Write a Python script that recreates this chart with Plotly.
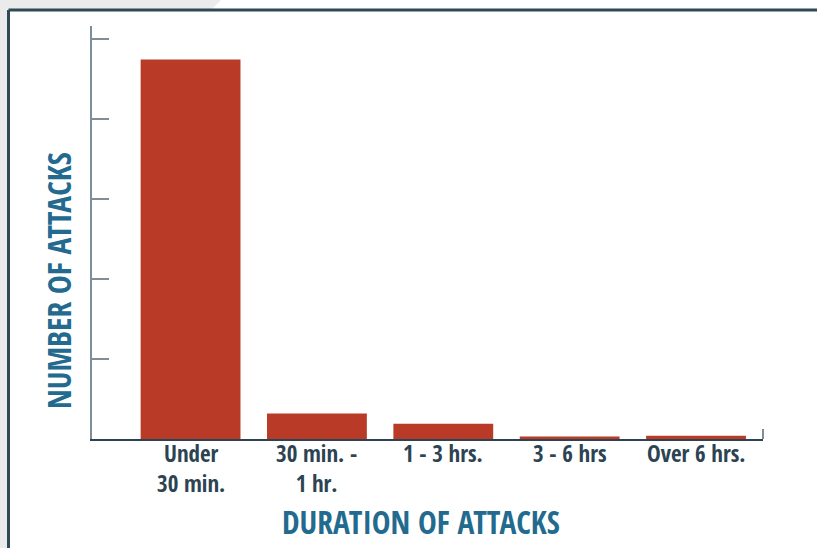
import plotly.graph_objects as go

# Attack counts by duration bucket
categories = ["Under<br>30 min.", "30 min. -<br>1 hr.", "1 - 3 hrs.", "3 - 6 hrs", "Over 6 hrs."]
attacks = [474, 32, 19, 3, 4]
y_ticks = [0, 100, 200, 300, 400, 500]

W, H = 817, 548
L, R, T, B = 92, 54, 26, 109
PW, PH = W - L - R, H - T - B

def px(x):
    return (x - L) / PW

def py(y):
    return (H - B - y) / PH

BAR = "#b83a27"
DARK = "#2c4352"
BLUE = "#236a8f"
GRID = "#7d8e98"
FONT = "Open Sans Condensed, Roboto Condensed, sans-serif"

fig = go.Figure(go.Bar(
    x=list(range(len(categories))),
    y=attacks,
    marker=dict(color=BAR, line=dict(width=0)),
    width=0.79,
))

shapes = [
    # light grey backdrop strip at the top-left
    dict(type="rect", xref="paper", yref="paper", x0=px(0), x1=px(213), y0=py(9), y1=py(0),
         fillcolor="#ebebeb", line=dict(width=0), layer="above"),
    dict(type="path", xref="paper", yref="paper",
         path=f"M {px(212)} {py(9)} L {px(213)} {py(0)} L {px(221)} {py(0)} Z",
         fillcolor="#ebebeb", line=dict(width=0), layer="above"),
    dict(type="rect", xref="paper", yref="paper", x0=px(0), x1=px(7.5), y0=py(548), y1=py(9),
         fillcolor="#ebebeb", line=dict(width=0), layer="above"),
    # panel frame (top and left edges)
    dict(type="line", xref="paper", yref="paper", x0=px(8.5), x1=px(820), y0=py(10), y1=py(10),
         line=dict(color="#2f4a57", width=3), layer="above"),
    dict(type="line", xref="paper", yref="paper", x0=px(8.5), x1=px(8.5), y0=py(10), y1=py(550),
         line=dict(color="#2f4a57", width=3), layer="above"),
    # small end tick on the category axis
    dict(type="line", xref="paper", yref="paper", x0=1, x1=1, y0=0, y1=py(429),
         line=dict(color=GRID, width=2)),
]

annotations = [
    dict(text="<b>DURATION OF ATTACKS</b>", xref="paper", yref="paper",
         x=px(421), y=py(521), xanchor="center", yanchor="middle", showarrow=False,
         font=dict(family=FONT, size=31.5, color=BLUE)),
    dict(text="<b>NUMBER OF ATTACKS</b>", xref="paper", yref="paper",
         x=px(58), y=py(281), xanchor="center", yanchor="middle", showarrow=False,
         textangle=-90, font=dict(family=FONT, size=31.5, color=BLUE)),
]

# category labels hung just under the axis line
for i, label in enumerate(categories):
    annotations.append(dict(
        text=f"<b>{label}</b>", xref="x", yref="paper",
        x=i, y=py(435), xanchor="center", yanchor="top", showarrow=False,
        font=dict(family=FONT, size=23, color=DARK),
    ))

fig.update_layout(
    width=W, height=H,
    margin=dict(l=L, r=R, t=T, b=B, pad=0),
    paper_bgcolor="white", plot_bgcolor="white",
    showlegend=False,
    shapes=shapes, annotations=annotations,
    xaxis=dict(
        range=[-0.78, 4.53],
        tickmode="array", tickvals=list(range(len(categories))), showticklabels=False,
        ticks="", showgrid=False, zeroline=False,
        showline=True, linecolor=DARK, linewidth=2,
    ),
    yaxis=dict(
        range=[0, 516],
        tickmode="array", tickvals=y_ticks, showticklabels=False,
        ticks="inside", ticklen=17, tickwidth=2, tickcolor=GRID,
        showgrid=False, zeroline=False,
        showline=True, linecolor=GRID, linewidth=2,
    ),
)

fig.write_html("out.html")
